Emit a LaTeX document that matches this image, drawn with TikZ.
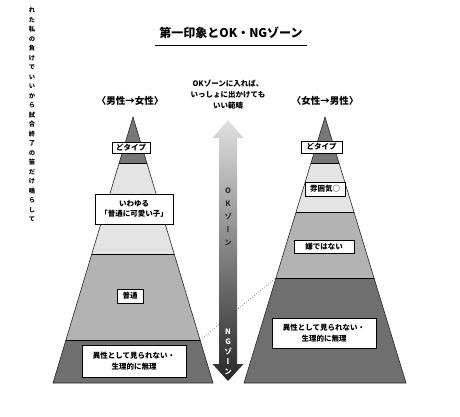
\documentclass[tikz,border=0pt]{standalone}
\usepackage{fontspec}
\setmainfont{Noto Sans CJK JP}
\newfontfamily\vjp[RawFeature=+vert]{Noto Sans CJK JP}
\usetikzlibrary{positioning}

\definecolor{topgray}{HTML}{777777}
\definecolor{lightband}{HTML}{E4E4E4}
\definecolor{midband}{HTML}{B3B3B3}
\definecolor{lowband}{HTML}{6F6F6F}

\begin{document}
\begin{tikzpicture}[
  x=1pt, y=-1pt,
  label box/.style={draw, fill=white, font=\fontsize{7.5}{10.5}\selectfont\bfseries,
    align=center, inner xsep=3pt, inner ysep=1.5pt, line width=0.6pt},
  heading/.style={font=\fontsize{9.5}{11}\selectfont\bfseries},
  edge line/.style={draw=black!85, line width=0.6pt}]
\useasboundingbox (0,0) rectangle (460,417);

% side text
\node[anchor=north, font=\vjp\fontsize{6.3}{9.5}\selectfont\bfseries, align=center] (side) at (32,4)
  {れ\\た\\私\\の\\負\\け\\で\\い\\い\\か\\ら\\試\\合\\終\\了\\の\\笛\\だ\\け\\鳴\\ら\\し\\て};

% title
\node[font=\fontsize{12}{14}\selectfont\bfseries] (title) at (231,33) {第一印象とOK・NGゾーン};
\coordinate (ulL) at (155,45);
\coordinate (ulR) at (307,45);
\draw[line width=0.7pt] (ulL) -- (ulR);

% left pyramid
\coordinate (Ltop) at (133,117);
\coordinate (Lbl) at (53,383);
\coordinate (Lbr) at (213,383);
\begin{scope}
  \clip (Ltop) -- (Lbr) -- (Lbl) -- cycle;
  \fill[topgray] (40,110) rectangle (230,163);
  \fill[lightband] (40,163) rectangle (230,254);
  \fill[midband] (40,254) rectangle (230,340);
  \fill[lowband] (40,340) rectangle (230,390);
  \draw[line width=0.6pt] (40,163) -- (230,163) (40,254) -- (230,254) (40,340) -- (230,340);
\end{scope}
\draw[edge line] (Ltop) -- (Lbr) -- (Lbl) -- cycle;

% right pyramid
\coordinate (Rtop) at (325,117);
\coordinate (Rbl) at (244,383);
\coordinate (Rbr) at (406,383);
\begin{scope}
  \clip (Rtop) -- (Rbr) -- (Rbl) -- cycle;
  \fill[topgray] (230,110) rectangle (420,163);
  \fill[lightband] (230,163) rectangle (420,212);
  \fill[midband] (230,212) rectangle (420,278);
  \fill[lowband] (230,278) rectangle (420,390);
  \draw[line width=0.6pt] (230,163) -- (420,163) (230,212) -- (420,212) (230,278) -- (420,278);
\end{scope}
\draw[edge line] (Rtop) -- (Rbr) -- (Rbl) -- cycle;

% headings
\node[heading] (headL) at (130,101) {〈男性→女性〉};
\node[heading] (headR) at (325,101) {〈女性→男性〉};

% left labels
\node[label box, minimum width=38pt, minimum height=11pt] (typeL) at (131,147.5) {どタイプ};
\node[label box, minimum width=78pt, minimum height=30pt] (kawaii) at (134,209) {いわゆる\\「普通に可愛い子」};
\node[label box, minimum width=26pt, minimum height=14pt] (futsu) at (130,296) {普通};
\node[label box, minimum width=104pt, minimum height=32pt] (muriL) at (134,361) {異性として見られない・\\生理的に無理};

% right labels
\node[label box, minimum width=41pt, minimum height=12pt] (typeR) at (321.5,147) {どタイプ};
\node[label box, minimum width=40pt, minimum height=14pt] (funiki) at (325,189) {雰囲気○};
\node[label box, minimum width=60pt, minimum height=13pt] (iya) at (324,246.5) {嫌ではない};
\node[label box, minimum width=104pt, minimum height=30pt] (muriR) at (324,333) {異性として見られない・\\生理的に無理};

% zone arrow
\shade[top color=black!12, middle color=black!28, bottom color=black!85]
  (228,120) -- (243.5,138) -- (237,138) -- (237,364) -- (243.5,364) -- (228,381)
  -- (212.5,364) -- (219,364) -- (219,138) -- (212.5,138) -- cycle;
\node[font=\fontsize{7.5}{11}\selectfont\bfseries, align=center] (note) at (228,95)
  {OKゾーンに入れば、\\いっしょに出かけても\\いい範疇};
\node[font=\vjp\fontsize{7.5}{13}\selectfont\bfseries, align=center, text=black!80] (okzone) at (228,217)
  {O\\K\\ゾ\\ー\\ン};
\node[font=\vjp\fontsize{7.5}{10}\selectfont\bfseries, align=center, text=white] (ngzone) at (228,352)
  {N\\G\\ゾ\\ー\\ン};

% boundary link
\coordinate (linkL) at (200,340);
\coordinate (linkR) at (276,278);
\draw[dotted, line width=0.6pt, black!70] (linkL) -- (linkR);
\end{tikzpicture}
\end{document}
